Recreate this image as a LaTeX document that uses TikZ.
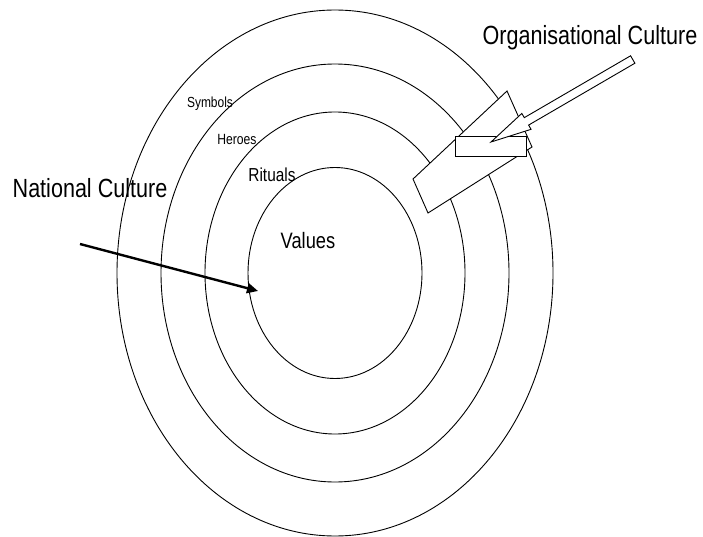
\documentclass[tikz,border=0pt]{standalone}
\usepackage{fontspec}
\setmainfont{Liberation Sans}[FakeStretch=0.82]
\usetikzlibrary{arrows.meta}
\tikzset{
  ring/.style={line width=0.9pt},
  tag/.style={anchor=base, inner sep=0pt},
  block/.style={draw=black, fill=white, line width=0.9pt, line join=miter},
}
\begin{document}
\begin{tikzpicture}[x=1pt,y=-1pt]
\useasboundingbox (0,0) rectangle (703,537);
% layers of the onion, core first
\foreach \rx/\ry in {87/105.5,130/161,174/209,218/263}
  \draw[ring] (335,273) ellipse [x radius=\rx, y radius=\ry];
\node[tag,font=\fontsize{14.6}{17}\selectfont] (symbols) at (210,108) {Symbols};
\node[tag,font=\fontsize{14.8}{17}\selectfont] (heroes) at (237,145) {Heroes};
\node[tag,font=\fontsize{18.8}{22}\selectfont] (rituals) at (272,182) {Rituals};
\node[tag,font=\fontsize{22.3}{26}\selectfont] (values) at (308,248) {Values};
\node[tag,font=\fontsize{26.3}{30}\selectfont] (nat) at (90,198) {National Culture};
\node[tag,font=\fontsize{26.3}{30}\selectfont] (org) at (590,45) {Organisational Culture};
% national culture reaches the core
\coordinate (nat-tail) at (80,244);
\coordinate (nat-head) at (258,291);
\draw[line width=2.4pt, -{Triangle[length=11pt,width=10pt]}] (nat-tail) -- (nat-head);
% organisational culture stops at the outer layers
\draw[block] (413,179) -- (507,91) -- (532,147) -- (428,213) -- cycle;
\draw[block] (455,136) rectangle (526,156);
\pgfmathsetmacro{\hl}{41}
\pgfmathsetmacro{\hw}{9.2}
\pgfmathsetmacro{\sw}{4.3}
\begin{scope}[shift={(491,142)}, rotate=30.2]
\draw[block] (0,0) -- (\hl,-\hw) -- (\hl,-\sw) -- (164,-\sw) -- (164,\sw) -- (\hl,\sw) -- (\hl,\hw) -- cycle;
\end{scope}
\end{tikzpicture}
\end{document}
